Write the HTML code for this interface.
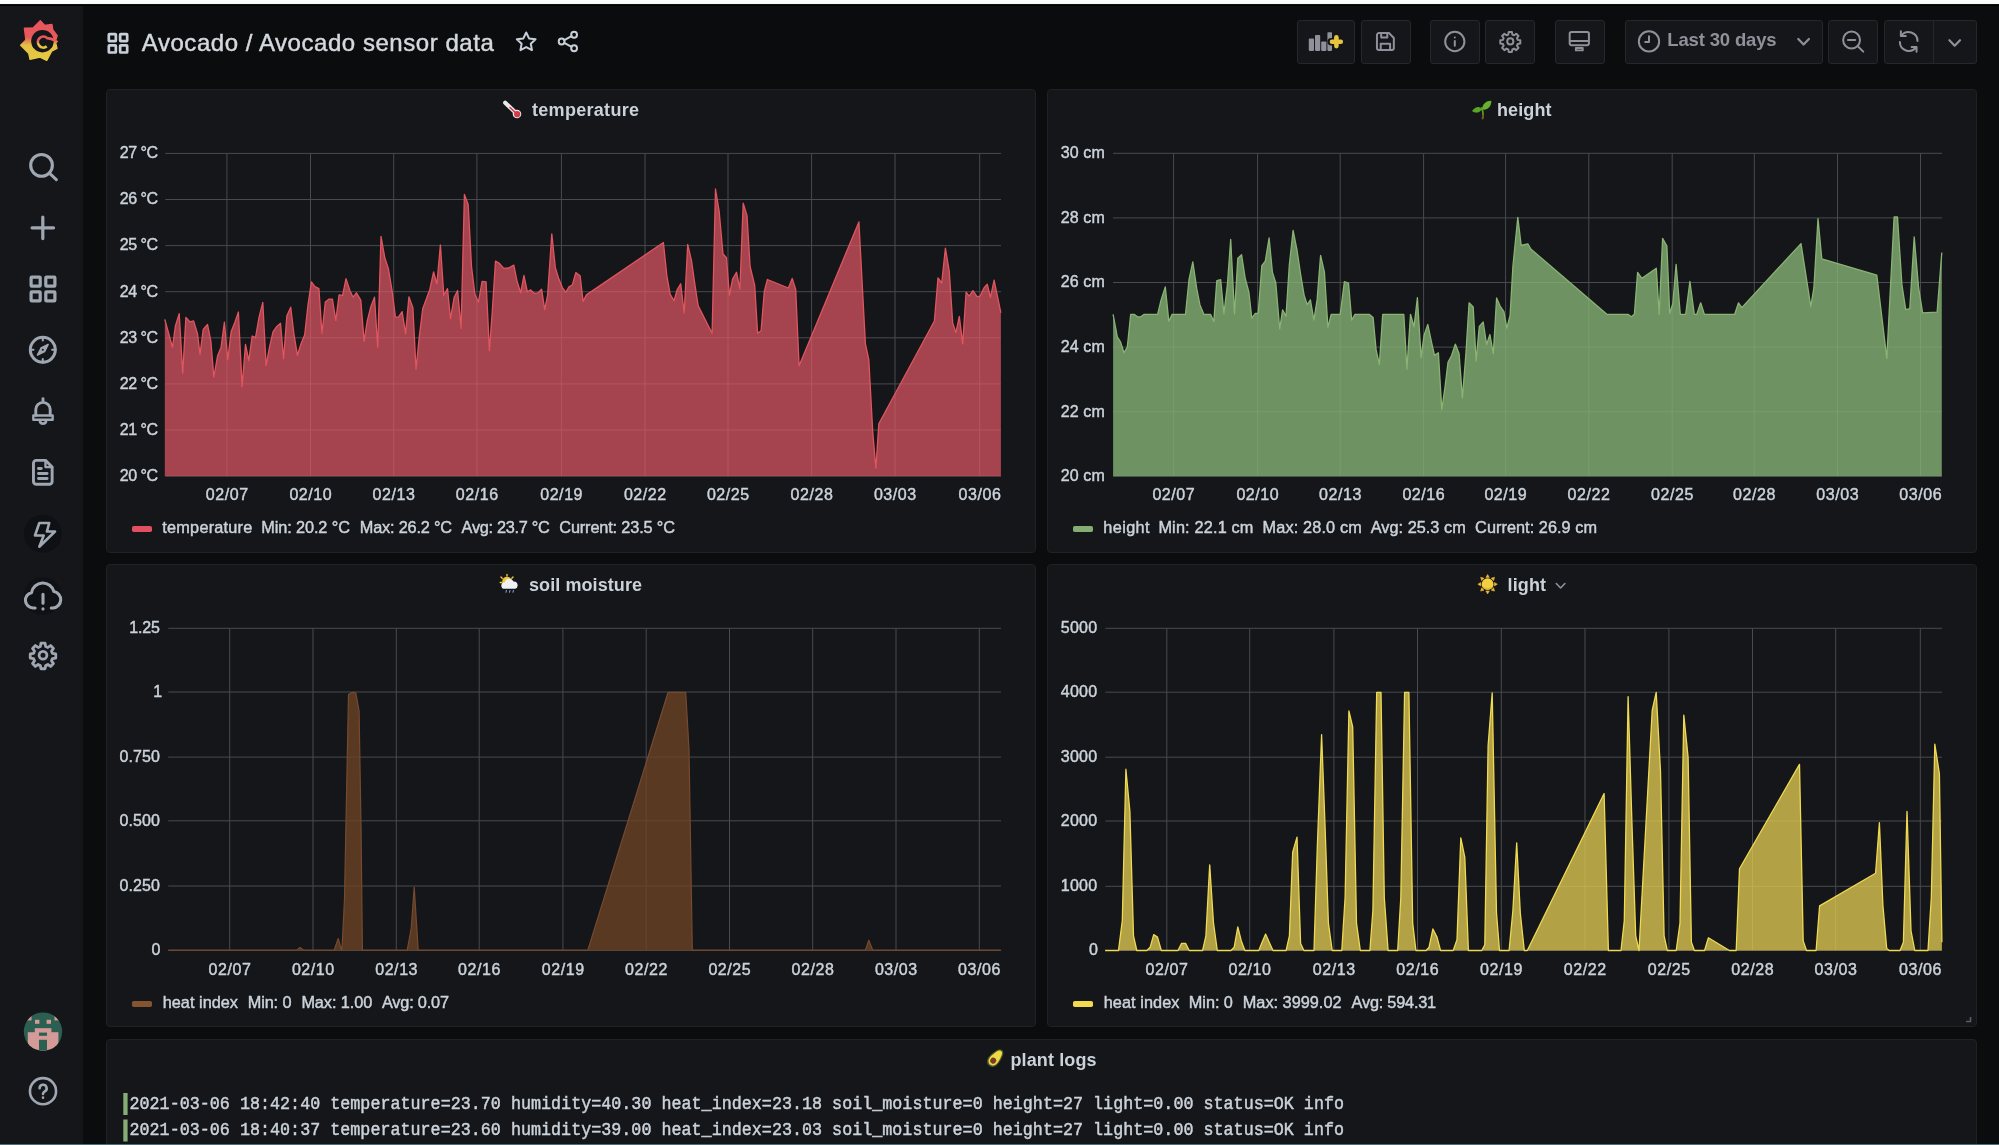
<!DOCTYPE html>
<html><head><meta charset="utf-8"><title>Avocado sensor data - Grafana</title>
<style>
html,body{margin:0;padding:0;background:#0b0c0e;}
body{width:1999px;height:1145px;overflow:hidden;position:relative;font-family:"Liberation Sans",sans-serif;color:#c7d0d9;}
.topstrip{position:absolute;left:0;top:0;width:1999px;height:6px;background:linear-gradient(#fbfcfc 0,#fbfcfc 58%,#000 76%,#000 100%);}
.botstrip{position:absolute;left:0;top:1143.6px;width:1999px;height:1.4px;background:#4f6e78;}
.sidebar{position:absolute;left:0;top:6px;width:83px;height:1139px;background:#141619;}
.panel{position:absolute;background:#141619;border:1px solid #1f2125;border-radius:4px;box-sizing:border-box;}
.btn{position:absolute;top:19.5px;height:44.5px;background:#15161a;border:1px solid #25272c;border-radius:3px;box-sizing:border-box;}
svg.ov{position:absolute;left:0;top:0;will-change:transform;}
</style></head><body>
<div class="sidebar"></div>
<div class="panel" style="left:106px;top:89px;width:930px;height:464px"></div>
<div class="panel" style="left:1047px;top:89px;width:930px;height:464px"></div>
<div class="panel" style="left:106px;top:564px;width:930px;height:463px"></div>
<div class="panel" style="left:1047px;top:564px;width:930px;height:463px"></div>
<div class="panel" style="left:106px;top:1039px;width:1871px;height:120px"></div>
<div class="btn" style="left:1296.5px;width:58.5px"></div>
<div class="btn" style="left:1360.5px;width:50px"></div>
<div class="btn" style="left:1430px;width:50px"></div>
<div class="btn" style="left:1485.2px;width:50px"></div>
<div class="btn" style="left:1555px;width:50px"></div>
<div class="btn" style="left:1624.5px;width:198px"></div>
<div class="btn" style="left:1828.3px;width:50px"></div>
<div class="btn" style="left:1884px;width:92.7px"></div>
<div style="position:absolute;left:1933px;top:20px;width:1px;height:43px;background:#25272c"></div>
<svg class="ov" width="1999" height="1145" viewBox="0 0 1999 1145">
<path d="M226.9 153.4V476.3M310.5 153.4V476.3M393.7 153.4V476.3M476.9 153.4V476.3M561.4 153.4V476.3M645.0 153.4V476.3M728.0 153.4V476.3M811.6 153.4V476.3M895.0 153.4V476.3M979.7 153.4V476.3M165.3 153.4H1001.0M165.3 199.5H1001.0M165.3 245.6H1001.0M165.3 291.7H1001.0M165.3 337.8H1001.0M165.3 383.9H1001.0M165.3 430.0H1001.0M165.3 476.1H1001.0" stroke="#484a4e" stroke-width="1.0" fill="none"/>
<path d="M164.8 319.3 L172.5 347.2 L175.4 326.0 L179.2 313.6 L182.7 373.1 L185.9 317.4 L189.8 321.8 L193.6 320.9 L197.5 333.7 L200.0 354.5 L203.2 329.5 L207.5 324.5 L210.9 341.4 L213.8 377.0 L217.6 355.8 L221.1 347.2 L224.4 322.2 L227.8 359.7 L231.1 331.8 L234.9 322.2 L238.4 312.0 L242.1 386.6 L245.5 344.3 L248.8 360.6 L252.2 336.0 L255.5 337.6 L259.0 317.4 L262.8 302.4 L266.1 365.4 L269.5 347.2 L273.0 331.8 L276.3 327.0 L280.5 323.2 L283.6 358.7 L286.8 316.1 L290.7 307.2 L293.9 333.7 L297.4 355.3 L301.2 343.3 L304.7 334.7 L308.0 304.9 L311.4 281.8 L314.9 286.7 L318.9 288.6 L322.0 333.3 L325.3 302.0 L329.1 299.1 L332.4 299.1 L335.8 320.3 L339.1 294.9 L342.6 295.3 L346.0 278.6 L349.9 290.5 L353.1 297.2 L356.4 292.8 L360.8 300.1 L364.1 341.4 L367.2 321.2 L370.8 306.8 L374.5 297.2 L377.7 347.2 L381.0 236.3 L384.8 257.8 L388.3 268.4 L391.9 289.5 L395.4 316.8 L398.3 317.4 L402.1 311.6 L405.6 333.7 L408.9 296.8 L412.9 307.8 L416.0 369.3 L419.2 337.6 L422.7 308.8 L426.3 299.1 L429.8 289.5 L433.6 271.9 L436.9 283.8 L440.4 244.8 L443.8 295.3 L447.5 288.6 L450.5 318.7 L454.2 297.2 L457.6 290.5 L461.1 328.4 L464.4 194.4 L468.2 204.6 L471.5 266.5 L474.9 294.3 L478.4 302.0 L482.1 281.3 L486.1 281.8 L489.4 350.6 L492.2 312.6 L495.5 261.1 L499.0 263.0 L503.8 268.4 L508.6 268.0 L513.8 265.1 L517.2 281.8 L520.7 292.8 L523.9 275.5 L527.4 291.8 L530.7 289.9 L534.5 293.4 L538.0 292.8 L541.6 289.2 L544.7 309.7 L547.6 295.3 L551.8 233.8 L555.3 267.4 L558.5 278.0 L562.4 287.6 L565.8 292.4 L569.1 286.7 L572.4 284.7 L575.8 272.6 L580.1 275.7 L583.1 301.4 L586.4 294.9 L663.4 242.5 L666.9 276.1 L670.2 294.3 L674.0 300.7 L677.1 289.9 L680.7 283.8 L684.2 313.0 L687.7 244.4 L691.5 260.7 L694.8 283.8 L698.2 305.9 L712.1 333.2 L715.5 189.0 L719.2 211.7 L723.0 254.0 L726.5 257.8 L729.4 295.3 L732.6 279.0 L736.5 272.2 L739.9 289.0 L743.2 203.1 L747.0 215.6 L750.1 266.5 L754.7 285.3 L757.6 333.2 L761.1 330.8 L764.3 291.5 L767.4 279.5 L788.4 288.0 L792.2 278.4 L795.7 289.5 L799.1 365.8 L858.9 221.9 L865.4 343.8 L868.8 359.6 L872.8 432.9 L875.9 468.3 L878.8 423.8 L934.4 321.0 L938.0 277.8 L941.7 283.0 L945.4 248.2 L949.3 271.7 L952.7 322.9 L955.9 332.6 L959.3 316.3 L962.7 343.8 L966.1 292.2 L969.2 296.1 L972.9 290.6 L977.1 296.6 L980.2 296.1 L983.9 288.0 L987.3 284.3 L990.5 297.4 L994.1 280.1 L1000.9 312.9 L1000.9 476.3 L164.8 476.3 Z" fill="#e25965" fill-opacity="0.7" stroke="none"/>
<path d="M164.8 319.3 L172.5 347.2 L175.4 326.0 L179.2 313.6 L182.7 373.1 L185.9 317.4 L189.8 321.8 L193.6 320.9 L197.5 333.7 L200.0 354.5 L203.2 329.5 L207.5 324.5 L210.9 341.4 L213.8 377.0 L217.6 355.8 L221.1 347.2 L224.4 322.2 L227.8 359.7 L231.1 331.8 L234.9 322.2 L238.4 312.0 L242.1 386.6 L245.5 344.3 L248.8 360.6 L252.2 336.0 L255.5 337.6 L259.0 317.4 L262.8 302.4 L266.1 365.4 L269.5 347.2 L273.0 331.8 L276.3 327.0 L280.5 323.2 L283.6 358.7 L286.8 316.1 L290.7 307.2 L293.9 333.7 L297.4 355.3 L301.2 343.3 L304.7 334.7 L308.0 304.9 L311.4 281.8 L314.9 286.7 L318.9 288.6 L322.0 333.3 L325.3 302.0 L329.1 299.1 L332.4 299.1 L335.8 320.3 L339.1 294.9 L342.6 295.3 L346.0 278.6 L349.9 290.5 L353.1 297.2 L356.4 292.8 L360.8 300.1 L364.1 341.4 L367.2 321.2 L370.8 306.8 L374.5 297.2 L377.7 347.2 L381.0 236.3 L384.8 257.8 L388.3 268.4 L391.9 289.5 L395.4 316.8 L398.3 317.4 L402.1 311.6 L405.6 333.7 L408.9 296.8 L412.9 307.8 L416.0 369.3 L419.2 337.6 L422.7 308.8 L426.3 299.1 L429.8 289.5 L433.6 271.9 L436.9 283.8 L440.4 244.8 L443.8 295.3 L447.5 288.6 L450.5 318.7 L454.2 297.2 L457.6 290.5 L461.1 328.4 L464.4 194.4 L468.2 204.6 L471.5 266.5 L474.9 294.3 L478.4 302.0 L482.1 281.3 L486.1 281.8 L489.4 350.6 L492.2 312.6 L495.5 261.1 L499.0 263.0 L503.8 268.4 L508.6 268.0 L513.8 265.1 L517.2 281.8 L520.7 292.8 L523.9 275.5 L527.4 291.8 L530.7 289.9 L534.5 293.4 L538.0 292.8 L541.6 289.2 L544.7 309.7 L547.6 295.3 L551.8 233.8 L555.3 267.4 L558.5 278.0 L562.4 287.6 L565.8 292.4 L569.1 286.7 L572.4 284.7 L575.8 272.6 L580.1 275.7 L583.1 301.4 L586.4 294.9 L663.4 242.5 L666.9 276.1 L670.2 294.3 L674.0 300.7 L677.1 289.9 L680.7 283.8 L684.2 313.0 L687.7 244.4 L691.5 260.7 L694.8 283.8 L698.2 305.9 L712.1 333.2 L715.5 189.0 L719.2 211.7 L723.0 254.0 L726.5 257.8 L729.4 295.3 L732.6 279.0 L736.5 272.2 L739.9 289.0 L743.2 203.1 L747.0 215.6 L750.1 266.5 L754.7 285.3 L757.6 333.2 L761.1 330.8 L764.3 291.5 L767.4 279.5 L788.4 288.0 L792.2 278.4 L795.7 289.5 L799.1 365.8 L858.9 221.9 L865.4 343.8 L868.8 359.6 L872.8 432.9 L875.9 468.3 L878.8 423.8 L934.4 321.0 L938.0 277.8 L941.7 283.0 L945.4 248.2 L949.3 271.7 L952.7 322.9 L955.9 332.6 L959.3 316.3 L962.7 343.8 L966.1 292.2 L969.2 296.1 L972.9 290.6 L977.1 296.6 L980.2 296.1 L983.9 288.0 L987.3 284.3 L990.5 297.4 L994.1 280.1 L1000.9 312.9" fill="none" stroke="#e1555f" stroke-width="1.3" stroke-linejoin="round"/>
<text x="119.8" y="158.2" font-family="Liberation Sans" font-size="16.00" stroke="#cbd2da" stroke-width="0.45" fill="#cbd2da" text-anchor="start" textLength="38.2" lengthAdjust="spacing" xml:space="preserve">27 °C</text>
<text x="119.8" y="204.3" font-family="Liberation Sans" font-size="16.00" stroke="#cbd2da" stroke-width="0.45" fill="#cbd2da" text-anchor="start" textLength="38.2" lengthAdjust="spacing" xml:space="preserve">26 °C</text>
<text x="119.8" y="250.4" font-family="Liberation Sans" font-size="16.00" stroke="#cbd2da" stroke-width="0.45" fill="#cbd2da" text-anchor="start" textLength="38.2" lengthAdjust="spacing" xml:space="preserve">25 °C</text>
<text x="119.8" y="296.5" font-family="Liberation Sans" font-size="16.00" stroke="#cbd2da" stroke-width="0.45" fill="#cbd2da" text-anchor="start" textLength="38.2" lengthAdjust="spacing" xml:space="preserve">24 °C</text>
<text x="119.8" y="342.6" font-family="Liberation Sans" font-size="16.00" stroke="#cbd2da" stroke-width="0.45" fill="#cbd2da" text-anchor="start" textLength="38.2" lengthAdjust="spacing" xml:space="preserve">23 °C</text>
<text x="119.8" y="388.7" font-family="Liberation Sans" font-size="16.00" stroke="#cbd2da" stroke-width="0.45" fill="#cbd2da" text-anchor="start" textLength="38.2" lengthAdjust="spacing" xml:space="preserve">22 °C</text>
<text x="119.8" y="434.8" font-family="Liberation Sans" font-size="16.00" stroke="#cbd2da" stroke-width="0.45" fill="#cbd2da" text-anchor="start" textLength="38.2" lengthAdjust="spacing" xml:space="preserve">21 °C</text>
<text x="119.8" y="480.9" font-family="Liberation Sans" font-size="16.00" stroke="#cbd2da" stroke-width="0.45" fill="#cbd2da" text-anchor="start" textLength="38.2" lengthAdjust="spacing" xml:space="preserve">20 °C</text>
<text x="205.8" y="500.3" font-family="Liberation Sans" font-size="16.00" stroke="#cbd2da" stroke-width="0.45" fill="#cbd2da" text-anchor="start" textLength="42.3" lengthAdjust="spacing" xml:space="preserve">02/07</text>
<text x="289.4" y="500.3" font-family="Liberation Sans" font-size="16.00" stroke="#cbd2da" stroke-width="0.45" fill="#cbd2da" text-anchor="start" textLength="42.3" lengthAdjust="spacing" xml:space="preserve">02/10</text>
<text x="372.6" y="500.3" font-family="Liberation Sans" font-size="16.00" stroke="#cbd2da" stroke-width="0.45" fill="#cbd2da" text-anchor="start" textLength="42.3" lengthAdjust="spacing" xml:space="preserve">02/13</text>
<text x="455.8" y="500.3" font-family="Liberation Sans" font-size="16.00" stroke="#cbd2da" stroke-width="0.45" fill="#cbd2da" text-anchor="start" textLength="42.3" lengthAdjust="spacing" xml:space="preserve">02/16</text>
<text x="540.2" y="500.3" font-family="Liberation Sans" font-size="16.00" stroke="#cbd2da" stroke-width="0.45" fill="#cbd2da" text-anchor="start" textLength="42.3" lengthAdjust="spacing" xml:space="preserve">02/19</text>
<text x="623.9" y="500.3" font-family="Liberation Sans" font-size="16.00" stroke="#cbd2da" stroke-width="0.45" fill="#cbd2da" text-anchor="start" textLength="42.3" lengthAdjust="spacing" xml:space="preserve">02/22</text>
<text x="706.9" y="500.3" font-family="Liberation Sans" font-size="16.00" stroke="#cbd2da" stroke-width="0.45" fill="#cbd2da" text-anchor="start" textLength="42.3" lengthAdjust="spacing" xml:space="preserve">02/25</text>
<text x="790.5" y="500.3" font-family="Liberation Sans" font-size="16.00" stroke="#cbd2da" stroke-width="0.45" fill="#cbd2da" text-anchor="start" textLength="42.3" lengthAdjust="spacing" xml:space="preserve">02/28</text>
<text x="873.9" y="500.3" font-family="Liberation Sans" font-size="16.00" stroke="#cbd2da" stroke-width="0.45" fill="#cbd2da" text-anchor="start" textLength="42.3" lengthAdjust="spacing" xml:space="preserve">03/03</text>
<text x="958.6" y="500.3" font-family="Liberation Sans" font-size="16.00" stroke="#cbd2da" stroke-width="0.45" fill="#cbd2da" text-anchor="start" textLength="42.3" lengthAdjust="spacing" xml:space="preserve">03/06</text>
<rect x="132.0" y="526.0" width="20" height="6" rx="1.8" fill="#e0505f"/>
<text x="162.3" y="533.0" font-family="Liberation Sans" font-size="16.30" stroke="#cbd2da" stroke-width="0.45" fill="#cbd2da" text-anchor="start" textLength="90.0" lengthAdjust="spacing" xml:space="preserve">temperature</text>
<text x="261.3" y="533.0" font-family="Liberation Sans" font-size="16.30" stroke="#cbd2da" stroke-width="0.45" fill="#cbd2da" text-anchor="start" textLength="88.6" lengthAdjust="spacing" xml:space="preserve">Min: 20.2 °C</text>
<text x="359.8" y="533.0" font-family="Liberation Sans" font-size="16.30" stroke="#cbd2da" stroke-width="0.45" fill="#cbd2da" text-anchor="start" textLength="92.2" lengthAdjust="spacing" xml:space="preserve">Max: 26.2 °C</text>
<text x="461.6" y="533.0" font-family="Liberation Sans" font-size="16.30" stroke="#cbd2da" stroke-width="0.45" fill="#cbd2da" text-anchor="start" textLength="88.2" lengthAdjust="spacing" xml:space="preserve">Avg: 23.7 °C</text>
<text x="559.3" y="533.0" font-family="Liberation Sans" font-size="16.30" stroke="#cbd2da" stroke-width="0.45" fill="#cbd2da" text-anchor="start" textLength="115.7" lengthAdjust="spacing" xml:space="preserve">Current: 23.5 °C</text>
<path d="M1173.6 153.3V476.3M1257.6 153.3V476.3M1340.2 153.3V476.3M1423.6 153.3V476.3M1505.6 153.3V476.3M1588.8 153.3V476.3M1672.2 153.3V476.3M1754.3 153.3V476.3M1837.5 153.3V476.3M1920.5 153.3V476.3M1113.0 153.3H1942.0M1113.0 217.9H1942.0M1113.0 282.5H1942.0M1113.0 347.1H1942.0M1113.0 411.7H1942.0M1113.0 476.3H1942.0" stroke="#484a4e" stroke-width="1.0" fill="none"/>
<path d="M1113.1 314.3 L1117.3 336.8 L1120.6 342.2 L1124.0 352.8 L1127.3 347.0 L1130.7 314.3 L1134.2 314.3 L1137.5 316.8 L1140.7 316.8 L1144.2 314.3 L1157.6 314.3 L1161.1 299.9 L1165.3 286.9 L1168.8 321.4 L1172.1 314.3 L1185.5 314.3 L1189.0 279.7 L1192.8 261.9 L1196.7 288.4 L1199.9 304.7 L1203.8 314.3 L1210.5 314.3 L1213.8 321.6 L1216.8 280.7 L1220.7 279.7 L1223.9 313.8 L1227.4 284.6 L1230.7 239.4 L1234.5 313.8 L1237.8 258.2 L1241.6 254.8 L1245.1 277.8 L1248.9 292.2 L1251.8 318.2 L1255.3 313.4 L1258.2 313.4 L1261.8 265.7 L1265.3 261.1 L1269.1 237.9 L1272.4 272.1 L1275.8 283.0 L1279.7 328.8 L1282.6 309.9 L1286.0 316.3 L1289.3 265.3 L1293.1 230.4 L1297.0 250.0 L1300.4 273.0 L1304.1 295.1 L1307.2 304.7 L1310.4 299.9 L1313.9 320.1 L1317.1 299.9 L1320.6 255.3 L1324.4 272.1 L1327.9 327.4 L1331.2 314.3 L1340.2 314.3 L1344.4 281.7 L1348.5 283.0 L1351.7 320.1 L1355.0 314.3 L1369.2 314.3 L1373.1 317.6 L1376.1 349.9 L1379.4 364.3 L1382.7 314.3 L1403.8 314.3 L1406.9 369.1 L1410.5 314.3 L1414.0 326.8 L1417.4 297.6 L1421.1 357.6 L1424.0 335.5 L1427.8 324.5 L1431.3 341.2 L1434.5 355.3 L1438.4 352.8 L1441.8 409.5 L1445.1 386.4 L1448.0 362.4 L1451.5 355.7 L1455.3 344.1 L1459.1 353.7 L1462.4 397.9 L1465.9 353.7 L1469.1 302.8 L1473.2 307.0 L1476.1 361.0 L1479.3 326.4 L1483.2 322.0 L1486.6 344.5 L1489.9 334.5 L1493.3 353.7 L1496.6 298.0 L1500.1 306.1 L1503.9 311.5 L1506.8 328.2 L1510.1 315.3 L1512.9 266.3 L1517.8 217.3 L1521.2 245.5 L1527.9 243.8 L1530.8 249.0 L1606.9 314.3 L1628.0 314.3 L1631.3 316.8 L1634.4 314.3 L1637.6 272.4 L1641.9 278.4 L1656.3 268.2 L1659.2 314.3 L1662.6 238.4 L1666.9 246.1 L1669.7 313.4 L1672.8 303.8 L1676.1 264.4 L1680.3 314.3 L1685.7 314.3 L1689.9 281.3 L1694.3 314.3 L1696.8 314.3 L1700.7 302.8 L1704.3 314.3 L1734.7 314.3 L1738.5 302.8 L1741.8 307.6 L1801.0 243.6 L1810.8 306.5 L1813.9 287.7 L1818.0 218.6 L1821.8 258.8 L1876.8 275.1 L1886.8 358.4 L1894.1 217.0 L1897.5 217.0 L1901.9 284.5 L1905.7 309.7 L1909.8 308.7 L1914.2 236.8 L1918.6 287.7 L1922.6 312.8 L1937.1 312.2 L1941.8 252.5 L1941.8 476.3 L1113.1 476.3 Z" fill="#86b174" fill-opacity="0.8" stroke="none"/>
<path d="M1113.1 314.3 L1117.3 336.8 L1120.6 342.2 L1124.0 352.8 L1127.3 347.0 L1130.7 314.3 L1134.2 314.3 L1137.5 316.8 L1140.7 316.8 L1144.2 314.3 L1157.6 314.3 L1161.1 299.9 L1165.3 286.9 L1168.8 321.4 L1172.1 314.3 L1185.5 314.3 L1189.0 279.7 L1192.8 261.9 L1196.7 288.4 L1199.9 304.7 L1203.8 314.3 L1210.5 314.3 L1213.8 321.6 L1216.8 280.7 L1220.7 279.7 L1223.9 313.8 L1227.4 284.6 L1230.7 239.4 L1234.5 313.8 L1237.8 258.2 L1241.6 254.8 L1245.1 277.8 L1248.9 292.2 L1251.8 318.2 L1255.3 313.4 L1258.2 313.4 L1261.8 265.7 L1265.3 261.1 L1269.1 237.9 L1272.4 272.1 L1275.8 283.0 L1279.7 328.8 L1282.6 309.9 L1286.0 316.3 L1289.3 265.3 L1293.1 230.4 L1297.0 250.0 L1300.4 273.0 L1304.1 295.1 L1307.2 304.7 L1310.4 299.9 L1313.9 320.1 L1317.1 299.9 L1320.6 255.3 L1324.4 272.1 L1327.9 327.4 L1331.2 314.3 L1340.2 314.3 L1344.4 281.7 L1348.5 283.0 L1351.7 320.1 L1355.0 314.3 L1369.2 314.3 L1373.1 317.6 L1376.1 349.9 L1379.4 364.3 L1382.7 314.3 L1403.8 314.3 L1406.9 369.1 L1410.5 314.3 L1414.0 326.8 L1417.4 297.6 L1421.1 357.6 L1424.0 335.5 L1427.8 324.5 L1431.3 341.2 L1434.5 355.3 L1438.4 352.8 L1441.8 409.5 L1445.1 386.4 L1448.0 362.4 L1451.5 355.7 L1455.3 344.1 L1459.1 353.7 L1462.4 397.9 L1465.9 353.7 L1469.1 302.8 L1473.2 307.0 L1476.1 361.0 L1479.3 326.4 L1483.2 322.0 L1486.6 344.5 L1489.9 334.5 L1493.3 353.7 L1496.6 298.0 L1500.1 306.1 L1503.9 311.5 L1506.8 328.2 L1510.1 315.3 L1512.9 266.3 L1517.8 217.3 L1521.2 245.5 L1527.9 243.8 L1530.8 249.0 L1606.9 314.3 L1628.0 314.3 L1631.3 316.8 L1634.4 314.3 L1637.6 272.4 L1641.9 278.4 L1656.3 268.2 L1659.2 314.3 L1662.6 238.4 L1666.9 246.1 L1669.7 313.4 L1672.8 303.8 L1676.1 264.4 L1680.3 314.3 L1685.7 314.3 L1689.9 281.3 L1694.3 314.3 L1696.8 314.3 L1700.7 302.8 L1704.3 314.3 L1734.7 314.3 L1738.5 302.8 L1741.8 307.6 L1801.0 243.6 L1810.8 306.5 L1813.9 287.7 L1818.0 218.6 L1821.8 258.8 L1876.8 275.1 L1886.8 358.4 L1894.1 217.0 L1897.5 217.0 L1901.9 284.5 L1905.7 309.7 L1909.8 308.7 L1914.2 236.8 L1918.6 287.7 L1922.6 312.8 L1937.1 312.2 L1941.8 252.5" fill="none" stroke="#8ab374" stroke-width="1.3" stroke-linejoin="round"/>
<text x="1060.8" y="158.1" font-family="Liberation Sans" font-size="16.00" stroke="#cbd2da" stroke-width="0.45" fill="#cbd2da" text-anchor="start" textLength="44.0" lengthAdjust="spacing" xml:space="preserve">30 cm</text>
<text x="1060.8" y="222.7" font-family="Liberation Sans" font-size="16.00" stroke="#cbd2da" stroke-width="0.45" fill="#cbd2da" text-anchor="start" textLength="44.0" lengthAdjust="spacing" xml:space="preserve">28 cm</text>
<text x="1060.8" y="287.3" font-family="Liberation Sans" font-size="16.00" stroke="#cbd2da" stroke-width="0.45" fill="#cbd2da" text-anchor="start" textLength="44.0" lengthAdjust="spacing" xml:space="preserve">26 cm</text>
<text x="1060.8" y="351.9" font-family="Liberation Sans" font-size="16.00" stroke="#cbd2da" stroke-width="0.45" fill="#cbd2da" text-anchor="start" textLength="44.0" lengthAdjust="spacing" xml:space="preserve">24 cm</text>
<text x="1060.8" y="416.5" font-family="Liberation Sans" font-size="16.00" stroke="#cbd2da" stroke-width="0.45" fill="#cbd2da" text-anchor="start" textLength="44.0" lengthAdjust="spacing" xml:space="preserve">22 cm</text>
<text x="1060.8" y="481.1" font-family="Liberation Sans" font-size="16.00" stroke="#cbd2da" stroke-width="0.45" fill="#cbd2da" text-anchor="start" textLength="44.0" lengthAdjust="spacing" xml:space="preserve">20 cm</text>
<text x="1152.4" y="500.3" font-family="Liberation Sans" font-size="16.00" stroke="#cbd2da" stroke-width="0.45" fill="#cbd2da" text-anchor="start" textLength="42.3" lengthAdjust="spacing" xml:space="preserve">02/07</text>
<text x="1236.4" y="500.3" font-family="Liberation Sans" font-size="16.00" stroke="#cbd2da" stroke-width="0.45" fill="#cbd2da" text-anchor="start" textLength="42.3" lengthAdjust="spacing" xml:space="preserve">02/10</text>
<text x="1319.0" y="500.3" font-family="Liberation Sans" font-size="16.00" stroke="#cbd2da" stroke-width="0.45" fill="#cbd2da" text-anchor="start" textLength="42.3" lengthAdjust="spacing" xml:space="preserve">02/13</text>
<text x="1402.4" y="500.3" font-family="Liberation Sans" font-size="16.00" stroke="#cbd2da" stroke-width="0.45" fill="#cbd2da" text-anchor="start" textLength="42.3" lengthAdjust="spacing" xml:space="preserve">02/16</text>
<text x="1484.4" y="500.3" font-family="Liberation Sans" font-size="16.00" stroke="#cbd2da" stroke-width="0.45" fill="#cbd2da" text-anchor="start" textLength="42.3" lengthAdjust="spacing" xml:space="preserve">02/19</text>
<text x="1567.6" y="500.3" font-family="Liberation Sans" font-size="16.00" stroke="#cbd2da" stroke-width="0.45" fill="#cbd2da" text-anchor="start" textLength="42.3" lengthAdjust="spacing" xml:space="preserve">02/22</text>
<text x="1651.0" y="500.3" font-family="Liberation Sans" font-size="16.00" stroke="#cbd2da" stroke-width="0.45" fill="#cbd2da" text-anchor="start" textLength="42.3" lengthAdjust="spacing" xml:space="preserve">02/25</text>
<text x="1733.1" y="500.3" font-family="Liberation Sans" font-size="16.00" stroke="#cbd2da" stroke-width="0.45" fill="#cbd2da" text-anchor="start" textLength="42.3" lengthAdjust="spacing" xml:space="preserve">02/28</text>
<text x="1816.3" y="500.3" font-family="Liberation Sans" font-size="16.00" stroke="#cbd2da" stroke-width="0.45" fill="#cbd2da" text-anchor="start" textLength="42.3" lengthAdjust="spacing" xml:space="preserve">03/03</text>
<text x="1899.3" y="500.3" font-family="Liberation Sans" font-size="16.00" stroke="#cbd2da" stroke-width="0.45" fill="#cbd2da" text-anchor="start" textLength="42.3" lengthAdjust="spacing" xml:space="preserve">03/06</text>
<rect x="1073.0" y="526.0" width="20" height="6" rx="1.8" fill="#85ad73"/>
<text x="1103.3" y="533.0" font-family="Liberation Sans" font-size="16.30" stroke="#cbd2da" stroke-width="0.45" fill="#cbd2da" text-anchor="start" textLength="46.2" lengthAdjust="spacing" xml:space="preserve">height</text>
<text x="1158.4" y="533.0" font-family="Liberation Sans" font-size="16.30" stroke="#cbd2da" stroke-width="0.45" fill="#cbd2da" text-anchor="start" textLength="95.0" lengthAdjust="spacing" xml:space="preserve">Min: 22.1 cm</text>
<text x="1262.6" y="533.0" font-family="Liberation Sans" font-size="16.30" stroke="#cbd2da" stroke-width="0.45" fill="#cbd2da" text-anchor="start" textLength="99.1" lengthAdjust="spacing" xml:space="preserve">Max: 28.0 cm</text>
<text x="1370.7" y="533.0" font-family="Liberation Sans" font-size="16.30" stroke="#cbd2da" stroke-width="0.45" fill="#cbd2da" text-anchor="start" textLength="95.0" lengthAdjust="spacing" xml:space="preserve">Avg: 25.3 cm</text>
<text x="1475.1" y="533.0" font-family="Liberation Sans" font-size="16.30" stroke="#cbd2da" stroke-width="0.45" fill="#cbd2da" text-anchor="start" textLength="121.9" lengthAdjust="spacing" xml:space="preserve">Current: 26.9 cm</text>
<path d="M229.7 628.2V950.6M313.0 628.2V950.6M396.3 628.2V950.6M479.2 628.2V950.6M562.9 628.2V950.6M646.2 628.2V950.6M729.5 628.2V950.6M812.7 628.2V950.6M896.0 628.2V950.6M979.3 628.2V950.6M168.2 628.3H1001.0M168.2 692.0H1001.0M168.2 757.1H1001.0M168.2 820.8H1001.0M168.2 886.0H1001.0M168.2 950.5H1001.0" stroke="#484a4e" stroke-width="1.0" fill="none"/>
<path d="M168.3 950.1 L296.7 950.1 L300.0 947.5 L303.4 950.1 L334.2 950.1 L338.2 938.5 L341.5 950.1 L342.2 945.1 L344.5 898.7 L348.5 694.6 L352.5 692.3 L355.8 692.9 L359.1 711.2 L361.1 832.3 L362.4 950.1 L407.2 950.1 L411.2 928.5 L414.2 887.1 L418.2 950.1 L587.8 950.1 L668.1 692.3 L685.7 692.3 L689.0 749.3 L692.3 950.1 L865.4 950.1 L868.8 940.2 L872.7 950.1 L1000.8 950.1 L1000.8 950.6 L168.3 950.6 Z" fill="#6e4426" fill-opacity="0.78" stroke="none"/>
<path d="M168.3 950.1 L296.7 950.1 L300.0 947.5 L303.4 950.1 L334.2 950.1 L338.2 938.5 L341.5 950.1 L342.2 945.1 L344.5 898.7 L348.5 694.6 L352.5 692.3 L355.8 692.9 L359.1 711.2 L361.1 832.3 L362.4 950.1 L407.2 950.1 L411.2 928.5 L414.2 887.1 L418.2 950.1 L587.8 950.1 L668.1 692.3 L685.7 692.3 L689.0 749.3 L692.3 950.1 L865.4 950.1 L868.8 940.2 L872.7 950.1 L1000.8 950.1" fill="none" stroke="#754a30" stroke-width="1.2" stroke-linejoin="round"/>
<text x="129.3" y="633.1" font-family="Liberation Sans" font-size="16.00" stroke="#cbd2da" stroke-width="0.45" fill="#cbd2da" text-anchor="start" textLength="30.5" lengthAdjust="spacing" xml:space="preserve">1.25</text>
<text x="153.2" y="696.8" font-family="Liberation Sans" font-size="16.00" stroke="#cbd2da" stroke-width="0.45" fill="#cbd2da" text-anchor="start" textLength="6.6" lengthAdjust="spacing" xml:space="preserve">1</text>
<text x="119.6" y="761.9" font-family="Liberation Sans" font-size="16.00" stroke="#cbd2da" stroke-width="0.45" fill="#cbd2da" text-anchor="start" textLength="40.2" lengthAdjust="spacing" xml:space="preserve">0.750</text>
<text x="119.6" y="825.6" font-family="Liberation Sans" font-size="16.00" stroke="#cbd2da" stroke-width="0.45" fill="#cbd2da" text-anchor="start" textLength="40.2" lengthAdjust="spacing" xml:space="preserve">0.500</text>
<text x="119.6" y="890.8" font-family="Liberation Sans" font-size="16.00" stroke="#cbd2da" stroke-width="0.45" fill="#cbd2da" text-anchor="start" textLength="40.2" lengthAdjust="spacing" xml:space="preserve">0.250</text>
<text x="151.5" y="955.3" font-family="Liberation Sans" font-size="16.00" stroke="#cbd2da" stroke-width="0.45" fill="#cbd2da" text-anchor="start" textLength="8.3" lengthAdjust="spacing" xml:space="preserve">0</text>
<text x="208.5" y="974.6" font-family="Liberation Sans" font-size="16.00" stroke="#cbd2da" stroke-width="0.45" fill="#cbd2da" text-anchor="start" textLength="42.3" lengthAdjust="spacing" xml:space="preserve">02/07</text>
<text x="291.9" y="974.6" font-family="Liberation Sans" font-size="16.00" stroke="#cbd2da" stroke-width="0.45" fill="#cbd2da" text-anchor="start" textLength="42.3" lengthAdjust="spacing" xml:space="preserve">02/10</text>
<text x="375.2" y="974.6" font-family="Liberation Sans" font-size="16.00" stroke="#cbd2da" stroke-width="0.45" fill="#cbd2da" text-anchor="start" textLength="42.3" lengthAdjust="spacing" xml:space="preserve">02/13</text>
<text x="458.1" y="974.6" font-family="Liberation Sans" font-size="16.00" stroke="#cbd2da" stroke-width="0.45" fill="#cbd2da" text-anchor="start" textLength="42.3" lengthAdjust="spacing" xml:space="preserve">02/16</text>
<text x="541.8" y="974.6" font-family="Liberation Sans" font-size="16.00" stroke="#cbd2da" stroke-width="0.45" fill="#cbd2da" text-anchor="start" textLength="42.3" lengthAdjust="spacing" xml:space="preserve">02/19</text>
<text x="625.1" y="974.6" font-family="Liberation Sans" font-size="16.00" stroke="#cbd2da" stroke-width="0.45" fill="#cbd2da" text-anchor="start" textLength="42.3" lengthAdjust="spacing" xml:space="preserve">02/22</text>
<text x="708.4" y="974.6" font-family="Liberation Sans" font-size="16.00" stroke="#cbd2da" stroke-width="0.45" fill="#cbd2da" text-anchor="start" textLength="42.3" lengthAdjust="spacing" xml:space="preserve">02/25</text>
<text x="791.6" y="974.6" font-family="Liberation Sans" font-size="16.00" stroke="#cbd2da" stroke-width="0.45" fill="#cbd2da" text-anchor="start" textLength="42.3" lengthAdjust="spacing" xml:space="preserve">02/28</text>
<text x="874.9" y="974.6" font-family="Liberation Sans" font-size="16.00" stroke="#cbd2da" stroke-width="0.45" fill="#cbd2da" text-anchor="start" textLength="42.3" lengthAdjust="spacing" xml:space="preserve">03/03</text>
<text x="958.1" y="974.6" font-family="Liberation Sans" font-size="16.00" stroke="#cbd2da" stroke-width="0.45" fill="#cbd2da" text-anchor="start" textLength="42.3" lengthAdjust="spacing" xml:space="preserve">03/06</text>
<rect x="132.0" y="1001.0" width="20" height="6" rx="1.8" fill="#84532f"/>
<text x="162.7" y="1008.0" font-family="Liberation Sans" font-size="16.30" stroke="#cbd2da" stroke-width="0.45" fill="#cbd2da" text-anchor="start" textLength="75.3" lengthAdjust="spacing" xml:space="preserve">heat index</text>
<text x="247.7" y="1008.0" font-family="Liberation Sans" font-size="16.30" stroke="#cbd2da" stroke-width="0.45" fill="#cbd2da" text-anchor="start" textLength="43.8" lengthAdjust="spacing" xml:space="preserve">Min: 0</text>
<text x="301.4" y="1008.0" font-family="Liberation Sans" font-size="16.30" stroke="#cbd2da" stroke-width="0.45" fill="#cbd2da" text-anchor="start" textLength="70.8" lengthAdjust="spacing" xml:space="preserve">Max: 1.00</text>
<text x="381.9" y="1008.0" font-family="Liberation Sans" font-size="16.30" stroke="#cbd2da" stroke-width="0.45" fill="#cbd2da" text-anchor="start" textLength="67.1" lengthAdjust="spacing" xml:space="preserve">Avg: 0.07</text>
<path d="M1166.8 628.2V950.6M1249.7 628.2V950.6M1333.9 628.2V950.6M1417.5 628.2V950.6M1501.3 628.2V950.6M1585.0 628.2V950.6M1668.9 628.2V950.6M1752.5 628.2V950.6M1835.7 628.2V950.6M1920.3 628.2V950.6M1105.3 628.3H1942.0M1105.3 692.2H1942.0M1105.3 757.2H1942.0M1105.3 821.0H1942.0M1105.3 886.3H1942.0M1105.3 950.5H1942.0" stroke="#484a4e" stroke-width="1.0" fill="none"/>
<path d="M1105.1 950.5 L1118.5 950.5 L1122.3 920.6 L1125.9 769.2 L1129.9 811.8 L1133.5 935.8 L1136.8 950.5 L1146.9 950.5 L1150.2 947.2 L1153.7 934.6 L1157.5 937.1 L1161.3 950.5 L1178.0 950.5 L1181.6 943.4 L1185.6 943.4 L1189.2 950.5 L1202.6 950.5 L1205.9 935.8 L1209.7 864.9 L1213.5 923.2 L1217.3 950.5 L1230.9 950.5 L1234.2 947.2 L1237.8 927.0 L1241.3 940.9 L1244.9 950.5 L1258.8 950.5 L1262.1 942.2 L1265.6 934.1 L1269.2 942.2 L1273.0 950.5 L1286.1 950.5 L1289.4 935.8 L1292.7 852.3 L1297.0 837.1 L1300.6 943.4 L1303.9 950.5 L1314.0 950.5 L1317.3 847.2 L1321.6 734.6 L1324.9 821.9 L1328.4 923.2 L1332.2 950.5 L1341.8 950.5 L1345.1 897.8 L1348.9 711.0 L1352.7 727.0 L1356.5 923.2 L1360.3 950.5 L1369.9 950.5 L1372.9 910.5 L1376.7 692.3 L1381.0 692.3 L1384.3 897.8 L1388.1 950.5 L1397.7 950.5 L1400.8 897.8 L1404.6 692.3 L1408.9 692.3 L1412.7 923.2 L1415.9 950.5 L1426.1 950.5 L1429.1 947.2 L1432.9 929.0 L1437.0 937.1 L1440.5 950.5 L1453.2 950.5 L1457.0 939.6 L1460.8 837.8 L1464.8 857.3 L1468.4 950.5 L1481.8 950.5 L1484.8 944.7 L1488.1 745.9 L1492.2 692.8 L1496.5 913.0 L1499.5 950.5 L1509.1 950.5 L1512.9 910.5 L1516.7 842.9 L1520.3 913.0 L1524.3 950.5 L1527.3 950.5 L1604.1 793.5 L1608.4 950.5 L1621.0 950.5 L1624.3 920.6 L1628.1 696.6 L1631.9 821.9 L1635.7 935.8 L1639.0 950.5 L1652.2 710.5 L1656.2 692.3 L1660.5 771.3 L1664.1 935.8 L1667.3 950.5 L1676.2 950.5 L1680.0 923.2 L1683.8 715.1 L1688.1 757.3 L1691.4 942.2 L1694.4 950.5 L1704.6 950.5 L1708.4 937.8 L1729.4 950.5 L1736.2 950.5 L1739.5 868.7 L1799.5 764.4 L1803.2 940.9 L1806.5 950.5 L1816.1 950.5 L1819.6 905.9 L1875.6 873.3 L1879.4 822.7 L1882.9 905.4 L1886.7 948.5 L1889.2 950.5 L1900.1 950.5 L1903.4 942.2 L1907.0 811.3 L1911.0 930.8 L1914.8 950.5 L1928.0 950.5 L1931.3 897.8 L1934.8 744.2 L1939.4 773.8 L1941.9 942.2 L1941.9 950.6 L1105.1 950.6 Z" fill="#e5cd53" fill-opacity="0.76" stroke="none"/>
<path d="M1105.1 950.5 L1118.5 950.5 L1122.3 920.6 L1125.9 769.2 L1129.9 811.8 L1133.5 935.8 L1136.8 950.5 L1146.9 950.5 L1150.2 947.2 L1153.7 934.6 L1157.5 937.1 L1161.3 950.5 L1178.0 950.5 L1181.6 943.4 L1185.6 943.4 L1189.2 950.5 L1202.6 950.5 L1205.9 935.8 L1209.7 864.9 L1213.5 923.2 L1217.3 950.5 L1230.9 950.5 L1234.2 947.2 L1237.8 927.0 L1241.3 940.9 L1244.9 950.5 L1258.8 950.5 L1262.1 942.2 L1265.6 934.1 L1269.2 942.2 L1273.0 950.5 L1286.1 950.5 L1289.4 935.8 L1292.7 852.3 L1297.0 837.1 L1300.6 943.4 L1303.9 950.5 L1314.0 950.5 L1317.3 847.2 L1321.6 734.6 L1324.9 821.9 L1328.4 923.2 L1332.2 950.5 L1341.8 950.5 L1345.1 897.8 L1348.9 711.0 L1352.7 727.0 L1356.5 923.2 L1360.3 950.5 L1369.9 950.5 L1372.9 910.5 L1376.7 692.3 L1381.0 692.3 L1384.3 897.8 L1388.1 950.5 L1397.7 950.5 L1400.8 897.8 L1404.6 692.3 L1408.9 692.3 L1412.7 923.2 L1415.9 950.5 L1426.1 950.5 L1429.1 947.2 L1432.9 929.0 L1437.0 937.1 L1440.5 950.5 L1453.2 950.5 L1457.0 939.6 L1460.8 837.8 L1464.8 857.3 L1468.4 950.5 L1481.8 950.5 L1484.8 944.7 L1488.1 745.9 L1492.2 692.8 L1496.5 913.0 L1499.5 950.5 L1509.1 950.5 L1512.9 910.5 L1516.7 842.9 L1520.3 913.0 L1524.3 950.5 L1527.3 950.5 L1604.1 793.5 L1608.4 950.5 L1621.0 950.5 L1624.3 920.6 L1628.1 696.6 L1631.9 821.9 L1635.7 935.8 L1639.0 950.5 L1652.2 710.5 L1656.2 692.3 L1660.5 771.3 L1664.1 935.8 L1667.3 950.5 L1676.2 950.5 L1680.0 923.2 L1683.8 715.1 L1688.1 757.3 L1691.4 942.2 L1694.4 950.5 L1704.6 950.5 L1708.4 937.8 L1729.4 950.5 L1736.2 950.5 L1739.5 868.7 L1799.5 764.4 L1803.2 940.9 L1806.5 950.5 L1816.1 950.5 L1819.6 905.9 L1875.6 873.3 L1879.4 822.7 L1882.9 905.4 L1886.7 948.5 L1889.2 950.5 L1900.1 950.5 L1903.4 942.2 L1907.0 811.3 L1911.0 930.8 L1914.8 950.5 L1928.0 950.5 L1931.3 897.8 L1934.8 744.2 L1939.4 773.8 L1941.9 942.2" fill="none" stroke="#efda52" stroke-width="1.3" stroke-linejoin="round"/>
<text x="1060.7" y="633.1" font-family="Liberation Sans" font-size="16.00" stroke="#cbd2da" stroke-width="0.45" fill="#cbd2da" text-anchor="start" textLength="36.5" lengthAdjust="spacing" xml:space="preserve">5000</text>
<text x="1060.7" y="697.0" font-family="Liberation Sans" font-size="16.00" stroke="#cbd2da" stroke-width="0.45" fill="#cbd2da" text-anchor="start" textLength="36.5" lengthAdjust="spacing" xml:space="preserve">4000</text>
<text x="1060.7" y="762.0" font-family="Liberation Sans" font-size="16.00" stroke="#cbd2da" stroke-width="0.45" fill="#cbd2da" text-anchor="start" textLength="36.5" lengthAdjust="spacing" xml:space="preserve">3000</text>
<text x="1060.7" y="825.8" font-family="Liberation Sans" font-size="16.00" stroke="#cbd2da" stroke-width="0.45" fill="#cbd2da" text-anchor="start" textLength="36.5" lengthAdjust="spacing" xml:space="preserve">2000</text>
<text x="1060.7" y="891.1" font-family="Liberation Sans" font-size="16.00" stroke="#cbd2da" stroke-width="0.45" fill="#cbd2da" text-anchor="start" textLength="36.5" lengthAdjust="spacing" xml:space="preserve">1000</text>
<text x="1088.9" y="955.3" font-family="Liberation Sans" font-size="16.00" stroke="#cbd2da" stroke-width="0.45" fill="#cbd2da" text-anchor="start" textLength="8.3" lengthAdjust="spacing" xml:space="preserve">0</text>
<text x="1145.6" y="974.6" font-family="Liberation Sans" font-size="16.00" stroke="#cbd2da" stroke-width="0.45" fill="#cbd2da" text-anchor="start" textLength="42.3" lengthAdjust="spacing" xml:space="preserve">02/07</text>
<text x="1228.5" y="974.6" font-family="Liberation Sans" font-size="16.00" stroke="#cbd2da" stroke-width="0.45" fill="#cbd2da" text-anchor="start" textLength="42.3" lengthAdjust="spacing" xml:space="preserve">02/10</text>
<text x="1312.8" y="974.6" font-family="Liberation Sans" font-size="16.00" stroke="#cbd2da" stroke-width="0.45" fill="#cbd2da" text-anchor="start" textLength="42.3" lengthAdjust="spacing" xml:space="preserve">02/13</text>
<text x="1396.3" y="974.6" font-family="Liberation Sans" font-size="16.00" stroke="#cbd2da" stroke-width="0.45" fill="#cbd2da" text-anchor="start" textLength="42.3" lengthAdjust="spacing" xml:space="preserve">02/16</text>
<text x="1480.1" y="974.6" font-family="Liberation Sans" font-size="16.00" stroke="#cbd2da" stroke-width="0.45" fill="#cbd2da" text-anchor="start" textLength="42.3" lengthAdjust="spacing" xml:space="preserve">02/19</text>
<text x="1563.8" y="974.6" font-family="Liberation Sans" font-size="16.00" stroke="#cbd2da" stroke-width="0.45" fill="#cbd2da" text-anchor="start" textLength="42.3" lengthAdjust="spacing" xml:space="preserve">02/22</text>
<text x="1647.8" y="974.6" font-family="Liberation Sans" font-size="16.00" stroke="#cbd2da" stroke-width="0.45" fill="#cbd2da" text-anchor="start" textLength="42.3" lengthAdjust="spacing" xml:space="preserve">02/25</text>
<text x="1731.3" y="974.6" font-family="Liberation Sans" font-size="16.00" stroke="#cbd2da" stroke-width="0.45" fill="#cbd2da" text-anchor="start" textLength="42.3" lengthAdjust="spacing" xml:space="preserve">02/28</text>
<text x="1814.5" y="974.6" font-family="Liberation Sans" font-size="16.00" stroke="#cbd2da" stroke-width="0.45" fill="#cbd2da" text-anchor="start" textLength="42.3" lengthAdjust="spacing" xml:space="preserve">03/03</text>
<text x="1899.1" y="974.6" font-family="Liberation Sans" font-size="16.00" stroke="#cbd2da" stroke-width="0.45" fill="#cbd2da" text-anchor="start" textLength="42.3" lengthAdjust="spacing" xml:space="preserve">03/06</text>
<rect x="1073.0" y="1001.0" width="20" height="6" rx="1.8" fill="#f2d94e"/>
<text x="1103.7" y="1008.0" font-family="Liberation Sans" font-size="16.30" stroke="#cbd2da" stroke-width="0.45" fill="#cbd2da" text-anchor="start" textLength="75.7" lengthAdjust="spacing" xml:space="preserve">heat index</text>
<text x="1188.8" y="1008.0" font-family="Liberation Sans" font-size="16.30" stroke="#cbd2da" stroke-width="0.45" fill="#cbd2da" text-anchor="start" textLength="44.1" lengthAdjust="spacing" xml:space="preserve">Min: 0</text>
<text x="1242.8" y="1008.0" font-family="Liberation Sans" font-size="16.30" stroke="#cbd2da" stroke-width="0.45" fill="#cbd2da" text-anchor="start" textLength="98.7" lengthAdjust="spacing" xml:space="preserve">Max: 3999.02</text>
<text x="1351.6" y="1008.0" font-family="Liberation Sans" font-size="16.30" stroke="#cbd2da" stroke-width="0.45" fill="#cbd2da" text-anchor="start" textLength="84.5" lengthAdjust="spacing" xml:space="preserve">Avg: 594.31</text>
<text x="532.0" y="116.1" font-family="Liberation Sans" font-size="18.00" font-weight="bold" fill="#cbd2da" text-anchor="start" textLength="107.0" lengthAdjust="spacing" xml:space="preserve">temperature</text>
<text x="1497.0" y="116.1" font-family="Liberation Sans" font-size="18.00" font-weight="bold" fill="#cbd2da" text-anchor="start" textLength="54.5" lengthAdjust="spacing" xml:space="preserve">height</text>
<text x="529.0" y="591.1" font-family="Liberation Sans" font-size="18.00" font-weight="bold" fill="#cbd2da" text-anchor="start" textLength="113.0" lengthAdjust="spacing" xml:space="preserve">soil moisture</text>
<text x="1507.5" y="591.1" font-family="Liberation Sans" font-size="18.00" font-weight="bold" fill="#cbd2da" text-anchor="start" textLength="38.5" lengthAdjust="spacing" xml:space="preserve">light</text>
<text x="1010.5" y="1066.1" font-family="Liberation Sans" font-size="18.00" font-weight="bold" fill="#cbd2da" text-anchor="start" textLength="86.0" lengthAdjust="spacing" xml:space="preserve">plant logs</text>
<text x="141.8" y="50.6" font-family="Liberation Sans" font-size="24.00" stroke="#d4d9de" stroke-width="0.45" fill="#d4d9de" text-anchor="start" textLength="352.0" lengthAdjust="spacing" xml:space="preserve">Avocado / Avocado sensor data</text>
<text x="1667.3" y="46.3" font-family="Liberation Sans" font-size="18.50" font-weight="bold" fill="#8e9199" text-anchor="start" textLength="109.3" lengthAdjust="spacing" xml:space="preserve">Last 30 days</text>
<g transform="translate(0 1109.2) scale(1 1.11)">
<text x="129.5" y="0.0" font-family="Liberation Mono" font-size="16.70" stroke="#cbd2da" stroke-width="0.45" fill="#cbd2da" text-anchor="start" textLength="1214.5" lengthAdjust="spacing" xml:space="preserve">2021-03-06 18:42:40 temperature=23.70 humidity=40.30 heat_index=23.18 soil_moisture=0 height=27 light=0.00 status=OK info</text>
</g>
<g transform="translate(0 1135.3) scale(1 1.11)">
<text x="129.5" y="0.0" font-family="Liberation Mono" font-size="16.70" stroke="#cbd2da" stroke-width="0.45" fill="#cbd2da" text-anchor="start" textLength="1214.5" lengthAdjust="spacing" xml:space="preserve">2021-03-06 18:40:37 temperature=23.60 humidity=39.00 heat_index=23.03 soil_moisture=0 height=27 light=0.00 status=OK info</text>
</g>
<rect x="123.3" y="1093" width="4.3" height="22" fill="#86ad74"/><rect x="123.3" y="1119.5" width="4.3" height="22" fill="#86ad74"/>
<g transform="translate(28.80 153.00) scale(1.1667)" fill="none" stroke="#9fa7b3" stroke-width="2.66" stroke-linecap="round" stroke-linejoin="round"><circle cx="10.900" cy="10.600" r="9.300"/><path d="M17.600 17.300L23.600 22.900"/></g>
<g transform="translate(28.80 213.80) scale(1.1667)" fill="none" stroke="#9fa7b3" stroke-width="2.74" stroke-linecap="round" stroke-linejoin="round"><path d="M12 2.800V21.200M2.800 12H21.200"/></g>
<g transform="translate(29.00 275.00) scale(1.1667)" fill="none" stroke="#9fa7b3" stroke-width="2.74" stroke-linecap="round" stroke-linejoin="round"><rect x="1.800" y="1.800" width="7.800" height="7.800" rx="0.600"/><rect x="14.400" y="1.800" width="7.800" height="7.800" rx="0.600"/><rect x="1.800" y="14.400" width="7.800" height="7.800" rx="0.600"/><rect x="14.400" y="14.400" width="7.800" height="7.800" rx="0.600"/></g>
<g transform="translate(28.80 335.80) scale(1.1667)" fill="none" stroke="#9fa7b3" stroke-width="2.57" stroke-linecap="round" stroke-linejoin="round"><circle cx="12" cy="12" r="10.700"/><path d="M12 1v3M12 20V23M1 12h3M20 12H23" stroke-width="1.800"/><path d="M16.600 7.400L10.500 10.500L7.400 16.600L13.500 13.500Z" fill="#9fa7b3" stroke-width="1.300"/><circle cx="12" cy="12" r="0.900" fill="#141619" stroke="none"/></g>
<g transform="translate(29.50 397.20) scale(1.1250)" fill="none" stroke="#9fa7b3" stroke-width="2.58" stroke-linecap="round" stroke-linejoin="round"><path d="M12 1.400V3" stroke-width="2.600"/><path d="M5.600 16V11a6.400 6.400 0 0 1 12.800 0v5" stroke-width="2.600"/><path d="M3.400 16.300h17.200v3.700H3.400Z" stroke-width="2.100"/><path d="M9.300 21.500a2.800 2.800 0 0 0 5.400 0" stroke-width="2.400"/></g>
<g transform="translate(28.80 458.30) scale(1.1667)" fill="none" stroke="#9fa7b3" stroke-width="2.49" stroke-linecap="round" stroke-linejoin="round"><path d="M14.300 1.800H6.400a2.400 2.400 0 0 0 -2.400 2.400v15.600a2.400 2.400 0 0 0 2.400 2.400h11.200a2.400 2.400 0 0 0 2.400 -2.400V7.500Z"/><path d="M14.300 1.800V7.500H20" stroke-width="2"/><path d="M8.300 13h7.400M8.300 17.300h7.400M8.300 8.800h2.400"/></g>
<circle cx="42.9" cy="533.8" r="19" fill="#0f1013"/>
<path d="M39.300 523H49.200L46.900 531.500H55L39.300 546.700L43.700 535.500H35Z" fill="none" stroke="#9fa7b3" stroke-width="2.600" stroke-linejoin="round"/>
<circle cx="42.9" cy="596" r="19" fill="#101114"/>
<g transform="translate(21.45 577.05) scale(1.7958)" fill="none" stroke="#9fa7b3" stroke-width="1.73" stroke-linecap="round" stroke-linejoin="round"><path d="M7.600 17.200H6.500a4.300 4.300 0 0 1 -0.900 -8.500a6.400 6.400 0 0 1 12.500 -0.600a4.600 4.600 0 0 1 -0.400 9.100h-1.100"/><path d="M12 9.600v5M12 17.700v0.100"/></g>
<g transform="translate(29.20 641.50) scale(1.1500)" fill="none" stroke="#9fa7b3" stroke-width="2.43" stroke-linecap="round" stroke-linejoin="round"><path d="M10.200 1.500h3.600l0.500 2.900l1.900 0.800l2.400 -1.700l2.500 2.500l-1.700 2.400l0.800 1.900l2.900 0.500v3.600l-2.900 0.500l-0.800 1.900l1.700 2.400l-2.500 2.500l-2.400 -1.700l-1.900 0.800l-0.500 2.900h-3.600l-0.500 -2.900l-1.900 -0.800l-2.400 1.700l-2.500 -2.500l1.700 -2.400l-0.800 -1.900l-2.900 -0.500v-3.600l2.900 -0.500l0.800 -1.900l-1.700 -2.400l2.500 -2.500l2.400 1.700l1.900 -0.800Z"/><circle cx="12" cy="12" r="3.400"/></g>
<g transform="translate(28.50 1076.70) scale(1.2083)" fill="none" stroke="#9fa7b3" stroke-width="2.15" stroke-linecap="round" stroke-linejoin="round"><circle cx="12" cy="12" r="10.800"/><path d="M9.200 9.600a2.900 2.900 0 1 1 4.300 2.500c-1 0.600 -1.500 1.100 -1.500 2.200"/><path d="M12 17.300v0.100"/></g>
<clipPath id="av"><circle cx="43" cy="1031.6" r="19.200"/></clipPath><g clip-path="url(#av)"><rect x="23" y="1011" width="40" height="41" fill="#2b5f52"/><rect x="27.800" y="1032.200" width="30.600" height="20" fill="#d49a98"/><rect x="34.800" y="1028.200" width="16.600" height="6" fill="#d49a98"/><rect x="39" y="1032.600" width="8" height="3.200" fill="#2b5f52"/><rect x="39" y="1039.800" width="8" height="13" fill="#2b5f52"/><rect x="35" y="1019.800" width="4.400" height="4" fill="#d49a98"/><rect x="46.600" y="1019.800" width="4.400" height="4" fill="#d49a98"/><rect x="24" y="1016" width="7.500" height="4.400" fill="#d49a98"/><rect x="54.500" y="1016" width="7.500" height="4.400" fill="#d49a98"/></g>
<defs><linearGradient id="gl" x1="0" y1="0" x2="0" y2="1"><stop offset="0" stop-color="#e9545f"/><stop offset="0.42" stop-color="#e7595a"/><stop offset="0.62" stop-color="#e5c043"/><stop offset="1" stop-color="#e6cb42"/></linearGradient><linearGradient id="gl2" gradientUnits="userSpaceOnUse" x1="0" y1="0" x2="0" y2="43"><stop offset="0" stop-color="#e9545f"/><stop offset="0.50" stop-color="#e7595a"/><stop offset="0.60" stop-color="#e5c043"/><stop offset="1" stop-color="#e6cb42"/></linearGradient></defs>
<g transform="translate(20.5 20.4) scale(0.93)"><path d="M21.300 0.300L25.800 5.300L33.800 4.300L34.600 10L39.400 16.500L37.400 22.200L39.200 30L33.500 33L28.200 43L21 39.500L10.300 41.800L8.800 35.200L0.200 26.700L5.800 21L4.200 8.300L13.800 8Z" fill="url(#gl)" stroke="url(#gl)" stroke-width="1.500" stroke-linejoin="round"/><circle cx="23.600" cy="22.300" r="12.100" fill="#141619"/><path d="M28.200 28a5.900 5.900 0 1 1 0.600 -8.900C31.500 19.300 35.500 19.800 39.600 23.500" stroke="url(#gl2)" stroke-width="2.900" fill="none"/></g>
<g transform="translate(107.20 32.50) scale(0.9000)" fill="none" stroke="#c7d0d9" stroke-width="3.00" stroke-linecap="round" stroke-linejoin="round"><rect x="1.800" y="1.800" width="7.800" height="7.800" rx="0.600"/><rect x="14.400" y="1.800" width="7.800" height="7.800" rx="0.600"/><rect x="1.800" y="14.400" width="7.800" height="7.800" rx="0.600"/><rect x="14.400" y="14.400" width="7.800" height="7.800" rx="0.600"/></g>
<g transform="translate(515.20 30.80) scale(0.9167)" fill="none" stroke="#c7d0d9" stroke-width="2.18" stroke-linecap="round" stroke-linejoin="round"><path d="M12 1.800l3.100 6.500l7.100 0.900l-5.200 4.900l1.300 7l-6.300 -3.400l-6.300 3.400l1.300 -7l-5.200 -4.900l7.100 -0.900Z"/></g>
<g transform="translate(556.75 30.25) scale(0.9375)" fill="none" stroke="#c7d0d9" stroke-width="2.13" stroke-linecap="round" stroke-linejoin="round"><circle cx="18.500" cy="4.800" r="3.100"/><circle cx="5.200" cy="12" r="3.100"/><circle cx="18.500" cy="19.200" r="3.100"/><path d="M8 10.500L15.800 6.300M8 13.500L15.800 17.700"/></g>
<g fill="#8e9199"><rect x="1308.800" y="38.600" width="5.200" height="12.300" rx="0.800"/><rect x="1315" y="35" width="5.200" height="15.900" rx="0.800"/><rect x="1321.200" y="41.500" width="5.200" height="9.400" rx="0.800"/><rect x="1327.400" y="32.200" width="4.600" height="18.700" rx="0.800"/></g>
<path d="M1336.400 36.500V46.900M1331.200 41.700H1341.600" stroke="#15161a" stroke-width="7.500" stroke-linecap="round"/><path d="M1336.400 37.300V46.100M1332 41.700H1340.800" stroke="#e6c53c" stroke-width="4.600" stroke-linecap="round"/>
<g transform="translate(1374.15 30.25) scale(0.9375)" fill="none" stroke="#8e9199" stroke-width="2.13" stroke-linecap="round" stroke-linejoin="round"><path d="M3 5.200a2.200 2.200 0 0 1 2.200 -2.200h10.600l5.200 5.200v10.600a2.200 2.200 0 0 1 -2.200 2.200H5.200a2.200 2.200 0 0 1 -2.200 -2.200Z"/><path d="M7.500 3.200v4.600h6.500v-4.600"/><path d="M7 21v-6.500h10V21"/></g>
<g transform="translate(1443.90 30.60) scale(0.9083)" fill="none" stroke="#8e9199" stroke-width="2.20" stroke-linecap="round" stroke-linejoin="round"><circle cx="12" cy="12" r="10.600"/><path d="M12 11.500v5.200M12 7.600v0.100"/></g>
<g transform="translate(1499.50 30.60) scale(0.9000)" fill="none" stroke="#8e9199" stroke-width="2.22" stroke-linecap="round" stroke-linejoin="round"><path d="M10.200 1.500h3.600l0.500 2.900l1.900 0.800l2.400 -1.700l2.500 2.500l-1.700 2.400l0.800 1.900l2.900 0.500v3.600l-2.900 0.500l-0.800 1.900l1.700 2.400l-2.500 2.500l-2.400 -1.700l-1.900 0.800l-0.500 2.900h-3.600l-0.500 -2.900l-1.900 -0.800l-2.400 1.700l-2.500 -2.500l1.700 -2.400l-0.800 -1.900l-2.900 -0.500v-3.600l2.900 -0.500l0.800 -1.900l-1.700 -2.400l2.500 -2.500l2.400 1.700l1.900 -0.800Z"/><circle cx="12" cy="12" r="3.400"/></g>
<g transform="translate(1568.30 30.30) scale(0.9167)" fill="none" stroke="#8e9199" stroke-width="2.18" stroke-linecap="round" stroke-linejoin="round"><rect x="1.500" y="1.800" width="21" height="14.400" rx="2"/><path d="M2 11.800h20"/><path d="M8.300 19.300h7.400v2.600h-7.400Z"/></g>
<g transform="translate(1637.50 29.90) scale(0.9583)" fill="none" stroke="#8e9199" stroke-width="2.09" stroke-linecap="round" stroke-linejoin="round"><circle cx="12" cy="12" r="10.600"/><path d="M12 6.500V12.500H8"/></g>
<path d="M1798.300 39l5.300 5.500l5.300 -5.500" fill="none" stroke="#8e9199" stroke-width="2.200" stroke-linecap="round" stroke-linejoin="round"/>
<g transform="translate(1841.70 30.10) scale(0.9583)" fill="none" stroke="#8e9199" stroke-width="2.09" stroke-linecap="round" stroke-linejoin="round"><circle cx="10.300" cy="10.300" r="8.800"/><path d="M16.800 16.800L22.500 22.500M6.500 10.300h7.600"/></g>
<g transform="translate(1896.95 29.75) scale(0.9792)" fill="none" stroke="#8e9199" stroke-width="2.04" stroke-linecap="round" stroke-linejoin="round"><g transform="translate(24 0) scale(-1 1)"><path d="M21 12.500a9.200 9.200 0 0 1 -16.500 5.500M3 11.500a9.200 9.200 0 0 1 16.500 -5.500"/><path d="M20 1.500v5h-5M4 22.500v-5h5"/></g></g>
<path d="M1949.400 40.200l5.300 5.500l5.300 -5.500" fill="none" stroke="#8e9199" stroke-width="2.200" stroke-linecap="round" stroke-linejoin="round"/>
<path d="M1556.300 583.500l4.300 4.500l4.300 -4.500" fill="none" stroke="#8e9199" stroke-width="1.600" stroke-linecap="round" stroke-linejoin="round"/>
<path d="M1970.500 1017v4.500h-4.500" fill="none" stroke="#5a5d63" stroke-width="1.600"/>
<g><path d="M505.200 102.800L516.500 113.500" stroke="#e8e8ea" stroke-width="4.200" stroke-linecap="round"/><circle cx="517" cy="114" r="4.300" fill="#e8e8ea"/><circle cx="517.200" cy="114.200" r="3.100" fill="#d63a47"/><path d="M510 107.500L516.500 113.600" stroke="#d63a47" stroke-width="1.500" stroke-linecap="round"/></g>
<g><path d="M1482.700 118.300c0.800 -4.500 0.300 -7.500 -1.200 -10.300" stroke="#5a9e2a" stroke-width="1.700" fill="none" stroke-linecap="round"/><path d="M1482.600 118.500l0.400 -3" stroke="#8a4b28" stroke-width="1.700" stroke-linecap="round"/><path d="M1482 109.500c0.300 -5.300 3.800 -8.800 9.300 -8.700c0.200 5.500 -3.300 9.700 -9.300 8.700Z" fill="#67b12c"/><path d="M1481.800 109.200c-2.200 -3.300 -6.300 -3 -9.800 1.800c3.500 2.500 7.800 2 9.800 -1.800Z" fill="#5aa426"/></g>
<g><circle cx="507" cy="581.500" r="4.800" fill="#f2c436"/><path d="M507 574.500v1.500M501 577l1.200 1.200M513 577l-1.200 1.200M500.200 582.500h1.500" stroke="#f2c436" stroke-width="1.400" stroke-linecap="round"/><path d="M504.500 588.800a3.300 3.300 0 0 1 0.300 -6.600a4.600 4.600 0 0 1 8.700 -0.800a3.800 3.800 0 0 1 1.500 7.400Z" fill="#f0f1f3"/><path d="M506.500 590.500l-0.600 1.800M510 590.500l-0.600 1.800M513.500 590.500l-0.600 1.800" stroke="#6fa3c9" stroke-width="1.100" stroke-linecap="round"/></g>
<g><path d="M1494.4 582.5L1497.3 584.2L1494.4 585.9ZM1493.6 587.8L1494.5 591.1L1491.2 590.2ZM1489.3 591.0L1487.6 593.9L1485.9 591.0ZM1484.0 590.2L1480.7 591.1L1481.6 587.8ZM1480.8 585.9L1477.9 584.2L1480.8 582.5ZM1481.6 580.6L1480.7 577.3L1484.0 578.2ZM1485.9 577.4L1487.6 574.5L1489.3 577.4ZM1491.2 578.2L1494.5 577.3L1493.6 580.6Z" fill="#eeb738" stroke="#eeb738" stroke-width="0.600" stroke-linejoin="round"/><circle cx="1487.600" cy="584.200" r="5.900" fill="#f2d040"/><path d="M1482.300 586.300a5.900 5.900 0 0 0 10.600 0a9 9 0 0 1 -10.600 0Z" fill="#dcb13a"/></g>
<g transform="rotate(40 995 1058.500)"><path d="M995 1047.500c3.200 0 4.300 3.500 5 7c0.900 4.300 1.600 8.700 -1.200 11.800c-2 2.200 -5.600 2.200 -7.600 0c-2.800 -3.100 -2.100 -7.500 -1.200 -11.800c0.700 -3.500 1.800 -7 5 -7Z" fill="#4b5a26"/><path d="M995 1048.800c2.400 0 3.300 3 3.900 6c0.800 3.900 1.400 7.600 -0.900 10.200c-1.600 1.800 -4.400 1.800 -6 0c-2.300 -2.600 -1.700 -6.300 -0.900 -10.200c0.600 -3 1.500 -6 3.900 -6Z" fill="#f0d945"/><circle cx="995" cy="1061.300" r="3" fill="#7a3d24"/></g>
</svg>
<div class="topstrip"></div>
<div class="botstrip"></div>
</body></html>
